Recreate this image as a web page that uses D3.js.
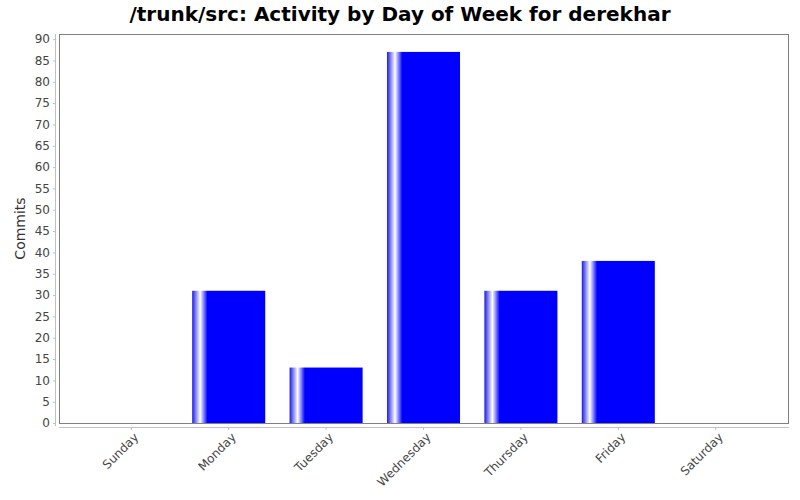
<!DOCTYPE html>
<html>
<head>
<meta charset="utf-8">
<script src="https://cdn.jsdelivr.net/npm/d3@7"></script>
<style>
  body { margin: 0; background: #fff; }
  text { font-family: "DejaVu Sans", sans-serif; }
</style>
</head>
<body>
<div id="chart"></div>
<script>
const days = ["Sunday", "Monday", "Tuesday", "Wednesday", "Thursday", "Friday", "Saturday"];
const commits = [0, 31, 13, 87, 31, 38, 0];
const yTicks = d3.range(0, 91, 5);

const width = 800, height = 500;
const plot = { left: 59, right: 789, top: 34, bottom: 423 };

const svg = d3.select("#chart").append("svg")
    .attr("width", width)
    .attr("height", height);

// bar gradient like the old jfreechart painter
const grad = svg.append("defs").append("linearGradient")
    .attr("id", "barGrad")
    .attr("x1", "0%").attr("x2", "100%")
    .attr("y1", "0%").attr("y2", "0%");
grad.append("stop").attr("offset", "0%").attr("stop-color", "#1a1ae6");
grad.append("stop").attr("offset", "11%").attr("stop-color", "#ffffff");
grad.append("stop").attr("offset", "21%").attr("stop-color", "#0000ff");
grad.append("stop").attr("offset", "100%").attr("stop-color", "#0000ff");

const x = d3.scaleBand()
    .domain(days)
    .range([82.6, 764.4])
    .paddingInner(0.25)
    .paddingOuter(0.125);

const y = d3.scaleLinear()
    .domain([0, 91.2])
    .range([plot.bottom, plot.top]);

// title
svg.append("text")
    .attr("x", width / 2)
    .attr("y", 21)
    .attr("text-anchor", "middle")
    .attr("font-size", 20)
    .attr("font-weight", "bold")
    .text("/trunk/src: Activity by Day of Week for derekhar");

// plot background + border
svg.append("rect")
    .attr("x", plot.left + 0.5)
    .attr("y", plot.top + 0.5)
    .attr("width", plot.right - plot.left - 1)
    .attr("height", plot.bottom - plot.top)
    .attr("fill", "#fff")
    .attr("stroke", "#808080");

// bars
svg.append("g")
    .selectAll("rect")
    .data(days.map((d, i) => ({ day: d, value: commits[i] })).filter(d => d.value > 0))
    .join("rect")
    .attr("x", d => x(d.day))
    .attr("y", d => y(d.value))
    .attr("width", x.bandwidth())
    .attr("height", d => y(0) - y(d.value))
    .attr("fill", "url(#barGrad)");

// y axis
const yAxis = svg.append("g")
    .attr("transform", "translate(55,0)")
    .call(d3.axisLeft(y).tickValues(yTicks).tickSize(2).tickPadding(3));
yAxis.select(".domain")
    .attr("stroke", "#c0c0c0")
    .attr("d", `M0.5,${plot.top}V${plot.bottom + 3}`);
yAxis.selectAll(".tick line").attr("stroke", "#c0c0c0");
yAxis.selectAll(".tick text")
    .attr("fill", "#444")
    .attr("font-size", 12)
    .attr("font-family", "DejaVu Sans, sans-serif");

// x axis
const xAxis = svg.append("g")
    .attr("transform", "translate(0,427)")
    .call(d3.axisBottom(x).tickSize(3).tickSizeOuter(0));
xAxis.select(".domain")
    .attr("stroke", "#c0c0c0")
    .attr("d", `M${plot.left},0.5H${plot.right}`);
xAxis.selectAll(".tick line").attr("stroke", "#c0c0c0");
xAxis.selectAll(".tick text")
    .attr("fill", "#444")
    .attr("font-size", 12)
    .attr("font-family", "DejaVu Sans, sans-serif")
    .attr("text-anchor", "end")
    .attr("dy", null)
    .attr("y", 0)
    .attr("transform", "translate(8,11) rotate(-45)");

// axis title
svg.append("text")
    .attr("transform", `translate(25,${(plot.top + plot.bottom) / 2}) rotate(-90)`)
    .attr("text-anchor", "middle")
    .attr("font-size", 14)
    .attr("fill", "#333")
    .text("Commits");
</script>
</body>
</html>
